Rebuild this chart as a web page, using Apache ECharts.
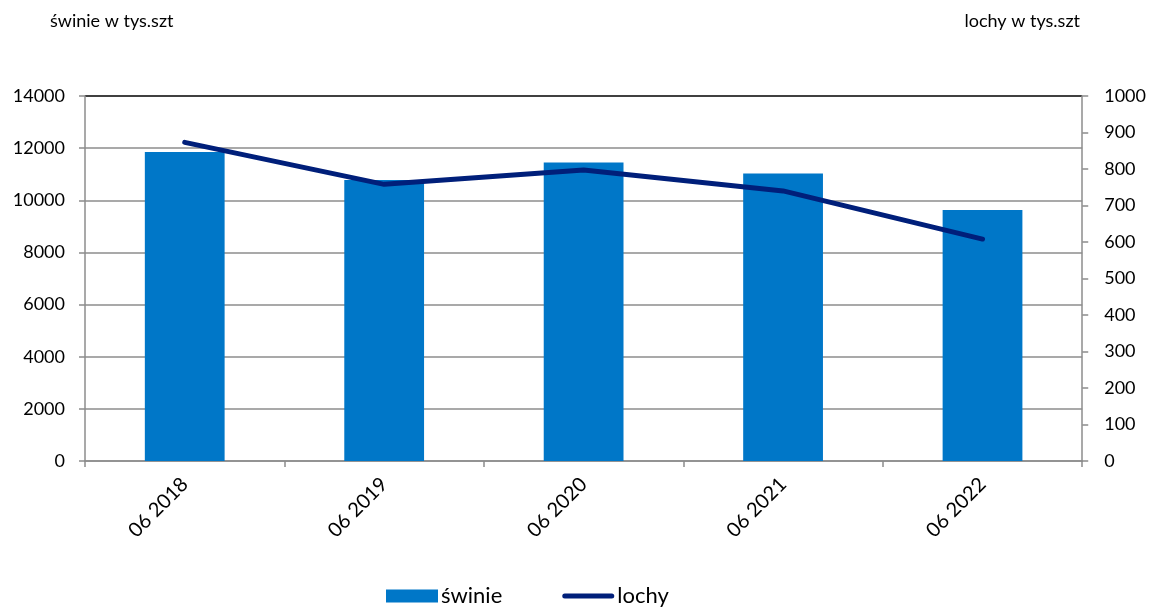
<!DOCTYPE html>
<html><head><meta charset="utf-8">
<script src="https://cdn.jsdelivr.net/npm/echarts@6/dist/echarts.min.js"></script>
<style>html,body{margin:0;padding:0;background:#fff}#c{width:1149px;height:608px}</style>
</head><body><div id="c"></div>
<script>
const categories = ['06 2018','06 2019','06 2020','06 2021','06 2022'];
const swinie = [11850, 10780, 11450, 11030, 9630];
const lochy = [873, 758, 797, 740, 608];
const FONT = 'Lato';
const chart = echarts.init(document.getElementById('c'));
const gridColors = ['#8c8c8c','#8c8c8c','#8c8c8c','#8c8c8c','#8c8c8c','#8c8c8c','#8c8c8c','#000000'];
const lineIcon = 'path://M2.5,0 L49.5,0 A2.5,2.5 0 0 1 49.5,5 L2.5,5 A2.5,2.5 0 0 1 2.5,0 Z';
chart.setOption({
  animation:false,
  textStyle:{fontFamily:FONT,color:'#000'},
  title:[
    {text:'świnie w tys.szt',left:45,top:7,textStyle:{fontFamily:FONT,fontSize:18,fontWeight:'normal',color:'#000'}},
    {text:'lochy w tys.szt',right:64,top:7,textStyle:{fontFamily:FONT,fontSize:18,fontWeight:'normal',color:'#000'}}
  ],
  legend:{bottom:1,left:386,padding:0,itemGap:60,itemWidth:52,itemHeight:13,
    textStyle:{fontFamily:FONT,fontSize:22,color:'#000',padding:[0,0,0,-2]},
    data:[{name:'świnie',icon:'rect'},{name:'lochy',icon:lineIcon}]},
  grid:{left:85,right:65,top:96,bottom:147,containLabel:false},
  xAxis:{type:'category',data:categories,boundaryGap:true,
    axisLine:{lineStyle:{color:'#8c8c8c',width:1.5}},
    axisTick:{show:true,length:6,alignWithLabel:false,lineStyle:{color:'#8c8c8c',width:1.5}},
    axisLabel:{rotate:45,fontSize:20,color:'#000',margin:20,fontFamily:FONT}},
  yAxis:[
    {type:'value',min:0,max:14000,interval:2000,
      axisLine:{show:true,lineStyle:{color:'#8c8c8c',width:1.5}},
      axisTick:{show:true,length:6,lineStyle:{color:'#8c8c8c',width:1.5}},
      axisLabel:{fontSize:18,color:'#000',margin:20,fontFamily:FONT,formatter:v=>String(v)},
      splitLine:{show:true,lineStyle:{color:gridColors,width:1.5}}},
    {type:'value',min:0,max:1000,interval:100,position:'right',
      axisLine:{show:true,lineStyle:{color:'#8c8c8c',width:1.5}},
      axisTick:{show:true,length:6,lineStyle:{color:'#8c8c8c',width:1.5}},
      axisLabel:{fontSize:18,color:'#000',margin:22,fontFamily:FONT,formatter:v=>String(v)},
      splitLine:{show:false}}
  ],
  series:[
    {name:'świnie',type:'bar',data:swinie,barWidth:'40%',itemStyle:{color:'#0077c8'}},
    {name:'lochy',type:'line',yAxisIndex:1,data:lochy,symbol:'none',
      lineStyle:{color:'#001f7a',width:5,cap:'round',join:'round'},itemStyle:{color:'#001f7a'}}
  ]
});
</script></body></html>
